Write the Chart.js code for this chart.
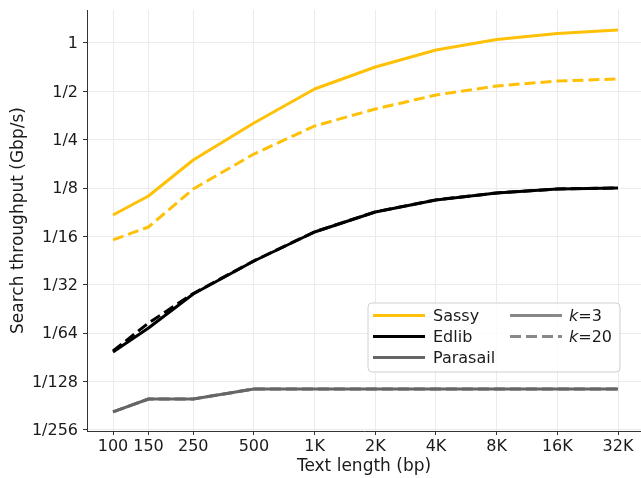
<!DOCTYPE html>
<html>
<head>
<meta charset="utf-8">
<script src="https://cdn.jsdelivr.net/npm/chart.js@4.4.1/dist/chart.umd.min.js"></script>
<style>
  html, body { margin: 0; padding: 0; background: #ffffff; }
  canvas { display: block; }
</style>
</head>
<body>
<canvas id="c" width="641" height="478"></canvas>
<script>
// ---- Data ----
const lengths = [100, 150, 250, 500, 1000, 2000, 4000, 8000, 16000, 32000];
const lengthLabels = ['100', '150', '250', '500', '1K', '2K', '4K', '8K', '16K', '32K'];

const yTickValues = [1/256, 1/128, 1/64, 1/32, 1/16, 1/8, 1/4, 1/2, 1];
const yTickLabels = ['1/256', '1/128', '1/64', '1/32', '1/16', '1/8', '1/4', '1/2', '1'];

const sassyK3  = [0.0850, 0.1117, 0.187, 0.3178, 0.5173, 0.709, 0.9044, 1.051, 1.1455, 1.205];
const sassyK20 = [0.0595, 0.0716, 0.1234, 0.2037, 0.3044, 0.3885, 0.4746, 0.540, 0.580, 0.597];
const edlibK3  = [0.01194, 0.01685, 0.02742, 0.0440, 0.06666, 0.08875, 0.1055, 0.11655, 0.1234, 0.1253];
const edlibK20 = [0.01212, 0.0181, 0.0276, 0.0441, 0.0668, 0.0889, 0.1056, 0.1167, 0.1235, 0.1254];
const parasailK3  = [0.00506, 0.00609, 0.00609, 0.00703, 0.00703, 0.00703, 0.00703, 0.00703, 0.00703, 0.00703];
const parasailK20 = [0.00506, 0.00609, 0.00609, 0.00703, 0.00703, 0.00703, 0.00703, 0.00703, 0.00703, 0.00703];

const methodNames  = ['Sassy', 'Edlib', 'Parasail'];
const methodColors = ['#ffc107', '#000000', '#666666'];
const kNames  = ['3', '20'];
const kDashes = [[], [11, 5]];
const kLegendColor = '#888888';

// ---- Build datasets ----
const seriesByMethod = [[sassyK3, sassyK20], [edlibK3, edlibK20], [parasailK3, parasailK20]];
const datasets = [];
[2, 1, 0].forEach(mi => {
  [0, 1].forEach(ki => {
    datasets.push({
      label: methodNames[mi] + ' k=' + kNames[ki],
      data: lengths.map((x, i) => ({ x: x, y: seriesByMethod[mi][ki][i] })),
      borderColor: methodColors[mi],
      backgroundColor: methodColors[mi],
      borderWidth: 3,
      borderDash: kDashes[ki],
      borderCapStyle: 'butt',
      borderJoinStyle: 'round',
      pointRadius: 0,
      tension: 0,
      fill: false
    });
  });
});

const FONT = "'DejaVu Sans', sans-serif";
const TEXT = '#1a1a1a';

const legendPlugin = {
  id: 'customLegend',
  afterDraw(chart) {
    const ctx = chart.ctx;
    const bx = 368, by = 303, bw = 252, bh = 69, r = 4;
    ctx.save();
    ctx.beginPath();
    ctx.moveTo(bx + r, by);
    ctx.arcTo(bx + bw, by, bx + bw, by + bh, r);
    ctx.arcTo(bx + bw, by + bh, bx, by + bh, r);
    ctx.arcTo(bx, by + bh, bx, by, r);
    ctx.arcTo(bx, by, bx + bw, by, r);
    ctx.closePath();
    ctx.fillStyle = 'rgba(255,255,255,0.8)';
    ctx.fill();
    ctx.strokeStyle = '#d0d0d0';
    ctx.lineWidth = 1;
    ctx.stroke();

    ctx.textBaseline = 'middle';
    ctx.textAlign = 'left';
    ctx.font = '16px ' + FONT;
    const rows = [315.5, 336.5, 357.5];
    methodNames.forEach((name, i) => {
      ctx.beginPath();
      ctx.setLineDash([]);
      ctx.strokeStyle = methodColors[i];
      ctx.lineWidth = 3;
      ctx.moveTo(373, rows[i]);
      ctx.lineTo(425, rows[i]);
      ctx.stroke();
      ctx.fillStyle = TEXT;
      ctx.fillText(name, 433, rows[i] + 1);
    });
    kNames.forEach((k, i) => {
      ctx.beginPath();
      ctx.setLineDash(kDashes[i]);
      ctx.strokeStyle = kLegendColor;
      ctx.lineWidth = 3;
      ctx.moveTo(510, rows[i]);
      ctx.lineTo(562, rows[i]);
      ctx.stroke();
      ctx.setLineDash([]);
      ctx.fillStyle = TEXT;
      ctx.font = 'italic 16px ' + FONT;
      ctx.fillText('k', 569, rows[i] + 1);
      const w = ctx.measureText('k').width;
      ctx.font = '16px ' + FONT;
      ctx.fillText('=' + k, 569 + w, rows[i] + 1);
    });
    ctx.restore();
  }
};

new Chart(document.getElementById('c'), {
  type: 'line',
  data: { datasets: datasets },
  plugins: [legendPlugin],
  options: {
    responsive: false,
    animation: false,
    layout: { padding: { top: 10, right: 0, left: 0, bottom: 0 } },
    plugins: { legend: { display: false }, tooltip: { enabled: false } },
    scales: {
      x: {
        type: 'logarithmic',
        min: 74.3,
        max: 41600,
        afterBuildTicks: s => { s.ticks = lengths.map(v => ({ value: v })); },
        afterFit: s => { s.height = 47; s.paddingLeft = 0; s.paddingRight = 0; },
        ticks: {
          autoSkip: false, maxRotation: 0, minRotation: 0,
          padding: 2,
          color: TEXT,
          font: { family: FONT, size: 16 },
          callback: (v, i) => lengthLabels[i]
        },
        grid: { color: '#ebebeb', lineWidth: 1, drawTicks: true, tickLength: 4, tickColor: '#333333', tickWidth: 1 },
        border: { display: true, color: '#333333', width: 1 },
        title: {
          display: true, text: 'Text length (bp)', color: TEXT,
          font: { family: FONT, size: 17 }, padding: { top: 0, bottom: 1 }
        }
      },
      y: {
        type: 'logarithmic',
        min: Math.pow(2, -8.021),
        max: Math.pow(2, 0.682),
        afterBuildTicks: s => { s.ticks = yTickValues.map(v => ({ value: v })); },
        afterFit: s => { s.width = 87; s.paddingTop = 0; s.paddingBottom = 0; },
        ticks: {
          autoSkip: false,
          padding: 5,
          labelOffset: 1,
          color: TEXT,
          font: { family: FONT, size: 16 },
          callback: (v, i) => yTickLabels[i]
        },
        grid: { color: '#ebebeb', lineWidth: 1, drawTicks: true, tickLength: 4, tickColor: '#333333', tickWidth: 1 },
        border: { display: true, color: '#333333', width: 1 },
        title: {
          display: true, text: 'Search throughput (Gbp/s)', color: TEXT,
          font: { family: FONT, size: 17 }, padding: { top: 8, bottom: 0 }
        }
      }
    }
  }
});
</script>
</body>
</html>
